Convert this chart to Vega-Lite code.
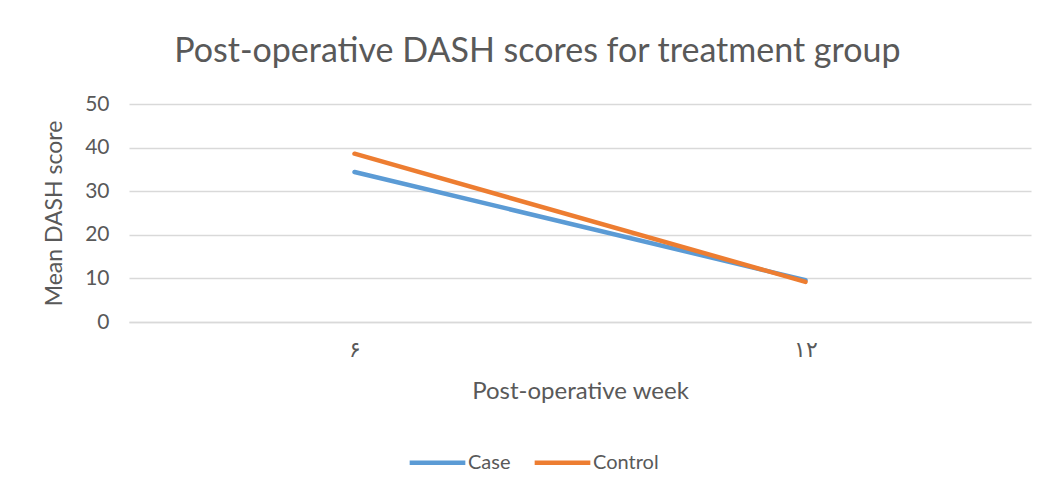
{
  "$schema": "https://vega.github.io/schema/vega-lite/v6.json",
  "width": 902,
  "height": 218,
  "padding": {"left": 43, "top": 35, "right": 10, "bottom": 10},
  "background": "white",
  "config": {
    "font": "Lato",
    "view": {"stroke": null},
    "axis": {"labelColor": "#595959", "titleColor": "#595959", "titleFontWeight": "normal"}
  },
  "title": {
    "text": "Post-operative DASH scores for treatment group",
    "fontSize": 34,
    "fontWeight": "normal",
    "color": "#595959",
    "frame": "bounds",
    "offset": 24
  },
  "data": {
    "values": [
      {"week": "۶", "group": "Case", "score": 34.4},
      {"week": "۱۲", "group": "Case", "score": 9.6},
      {"week": "۶", "group": "Control", "score": 38.6},
      {"week": "۱۲", "group": "Control", "score": 9.2}
    ]
  },
  "mark": {"type": "line", "strokeWidth": 4.5, "strokeCap": "round"},
  "encoding": {
    "x": {
      "field": "week",
      "type": "ordinal",
      "sort": ["۶", "۱۲"],
      "scale": {"type": "point", "padding": 0.5},
      "axis": {
        "title": "Post-operative week",
        "titleFontSize": 24,
        "titlePadding": 19,
        "labelFontSize": 22,
        "labelAngle": 0,
        "labelPadding": 17,
        "ticks": false,
        "domainColor": "#d9d9d9",
        "domainWidth": 1.5
      }
    },
    "y": {
      "field": "score",
      "type": "quantitative",
      "scale": {"domain": [0, 50]},
      "axis": {
        "title": "Mean DASH score",
        "titleFontSize": 23,
        "titlePadding": 18,
        "labelFontSize": 21,
        "labelPadding": 20,
        "values": [0, 10, 20, 30, 40, 50],
        "ticks": false,
        "domain": false,
        "gridColor": "#d9d9d9",
        "gridWidth": 1.5
      }
    },
    "color": {
      "field": "group",
      "type": "nominal",
      "scale": {"domain": ["Case", "Control"], "range": ["#5B9BD5", "#ED7D31"]},
      "legend": {
        "title": null,
        "orient": "none",
        "legendX": 278,
        "legendY": 328,
        "direction": "horizontal",
        "symbolType": "stroke",
        "symbolSize": 3100,
        "symbolStrokeWidth": 4.5,
        "labelFontSize": 20,
        "labelColor": "#595959",
        "labelOffset": 0,
        "columnPadding": 14
      }
    }
  }
}
